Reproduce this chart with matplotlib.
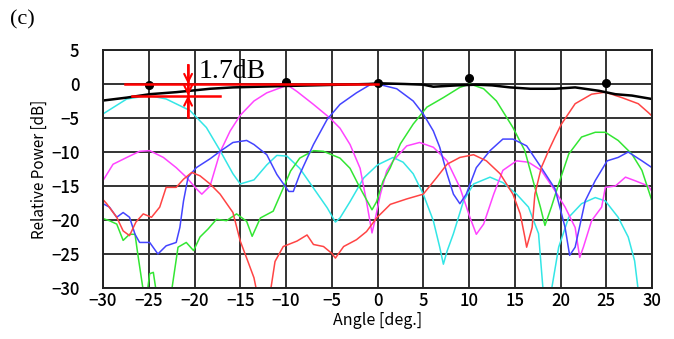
import numpy as np
import matplotlib
matplotlib.use("Agg")
import matplotlib.pyplot as plt

# ---- data ----
black_x = [-30.4, -27.4, -24.9, -22, -20.5, -18.3, -15.8, -13, -10.3, -7, -4, -1, 0.3, 3, 5, 6.1, 8.7, 10.8, 12.5, 14.5, 16.7, 19.4, 21.6, 24.2, 26, 27.8, 30.4]
black_y = [-2.5, -2.0, -1.5, -1.2, -1.0, -0.7, -0.5, -0.4, -0.3, -0.2, -0.1, 0.0, 0.1, 0.0, -0.1, -0.4, -0.2, -0.1, -0.2, -0.5, -0.7, -0.7, -0.5, -1.0, -1.5, -1.7, -2.3]

dot_x = [-25, -10, 0, 10, 25]
dot_y = [-0.2, 0.3, 0.1, 0.9, 0.1]

cyan_x = [-30.4, -30, -27.4, -25, -23.1, -20.5, -18.7, -17.2, -15.8, -15, -13.5, -12.1, -11, -9.9, -8.5, -7, -5.5, -4.6, -4.1, -3, -1.5, 0, 1.7, 2.8, 3.9, 5, 6.1, 6.8, 7.2, 7.6, 8.3, 9.4, 10.5, 12.3, 13.7, 15.2, 16.5, 17.6, 18.1, 18.5, 19, 19.8, 20.9, 22.3, 23.8, 24.9, 26.3, 27.4, 28.1, 28.5, 28.8]
cyan_y = [-5.1, -4.4, -2.2, -1.7, -2.2, -3.9, -6.4, -9.8, -13.2, -14.7, -14.1, -11.9, -10.5, -10.6, -12.4, -15.3, -18.2, -20.3, -19.7, -17.3, -13.8, -11.9, -10.8, -11.5, -13.2, -16.2, -20.1, -24, -26.5, -24.6, -22, -17.2, -14.7, -13.7, -14.5, -16.2, -18.1, -22, -30.4, -33, -30.4, -24, -19.6, -17.6, -16.7, -17.2, -19.6, -22.5, -26, -30.4, -33]

magenta_x = [-30.4, -30, -28.9, -27.4, -26, -24.9, -23.4, -22, -20.9, -19.8, -19.2, -18.3, -17.2, -16.1, -15, -13.5, -12.1, -10.3, -10, -8.8, -7, -5.2, -4.1, -3, -1.9, -1.2, -0.6, -0.3, 0.3, 1, 1.7, 3.2, 4.6, 6.1, 7.6, 9, 10.1, 10.8, 11.6, 12.7, 13.7, 15.2, 16.5, 17.9, 19.4, 20.5, 21.6, 22.1, 22.5, 23.4, 24.5, 24.9, 26, 27.1, 28.1, 29.6, 30.7]
magenta_y = [-15.2, -14.2, -11.8, -10.8, -9.9, -9.8, -10.8, -12.3, -13.7, -15.4, -16.2, -15, -10, -6.9, -4.6, -2.5, -1.3, -0.4, 0.0, -1.1, -3.0, -5.0, -6.5, -8.9, -12.4, -17.3, -21.9, -20.2, -16.3, -12.8, -11.3, -9.1, -8.6, -9.3, -11.3, -15.2, -19.6, -22.1, -20.6, -16.2, -12.7, -11.3, -11.5, -12.7, -15.7, -18.1, -21.1, -25.5, -24, -20.1, -18.1, -15.2, -15, -13.7, -14.2, -15, -17.2]

blue_x = [-30.4, -30, -29.3, -28.5, -27.8, -27.1, -26.5, -26, -24.9, -24, -23.1, -22, -21.6, -21.2, -20.7, -19.8, -18.3, -17.2, -15.8, -14.3, -13.5, -12.1, -11, -9.7, -9.2, -8.5, -7, -5.5, -4.1, -2.3, -0.8, 0, 2.1, 3.9, 5, 6.1, 6.8, 7.6, 8.3, 9, 9.7, 10.8, 12.3, 13.7, 14.8, 16.3, 17.9, 19.4, 20.5, 21, 21.6, 22.7, 23.8, 25.1, 26.3, 27.4, 28.9, 30, 30.7]
blue_y = [-19.1, -17.6, -18.1, -19.6, -18.9, -19.6, -22.1, -23.3, -23.3, -25, -23.8, -23.3, -21.1, -17.2, -13.7, -12.3, -11, -9.9, -8.6, -8.3, -8.9, -10.4, -13.3, -15.8, -15.8, -13.3, -8.9, -5.2, -3.0, -1.3, -0.1, 0.0, -0.7, -2.5, -4.4, -6.9, -9.3, -13.2, -16.2, -17.6, -16.2, -12.3, -9.8, -8.1, -8.1, -9.1, -12.3, -15.4, -21.1, -25.2, -24, -17.2, -14.2, -11.3, -10.8, -10, -11.3, -12.3, -14.2]

green_x = [-30.4, -29.3, -28.5, -27.8, -27.1, -26.5, -26.2, -25.6, -25.3, -24.9, -24.5, -24.2, -23.9, -22.8, -22.5, -21.8, -20.9, -20.1, -19.4, -18.5, -17.6, -16.5, -15.4, -14.3, -13.7, -12.8, -11.4, -10.3, -9.5, -8.5, -7, -5.9, -4.1, -3, -1.9, -0.6, -0.1, 0.6, 1.4, 2.5, 3.9, 5.4, 7.2, 9, 10.1, 11.6, 13, 14.8, 16.1, 17.2, 17.8, 18.3, 19, 19.8, 20.9, 22.3, 23.8, 24.9, 26.3, 27.8, 28.9, 30, 30.7]
green_y = [-19.6, -20.1, -20.6, -23, -22.1, -22.1, -25, -30.4, -32, -27.9, -27.7, -30.4, -32, -32, -30.4, -24, -23.3, -24.5, -22.5, -21.3, -19.9, -20.1, -19.1, -20.2, -22.4, -19.7, -18.7, -15.3, -12.8, -10.9, -9.8, -9.9, -10.9, -12.4, -15.3, -18.5, -17.3, -14.3, -12.3, -8.8, -5.9, -3.4, -2.0, -0.5, 0.0, -0.7, -2.5, -6.4, -9.8, -15.2, -18.1, -20.8, -18.1, -14.7, -10.3, -7.8, -7.1, -7.1, -8.3, -10.3, -12.7, -17.2, -22.1]

red_x = [-30.4, -29.6, -28.5, -27.8, -27.1, -26.4, -25.6, -24.7, -23.8, -23.1, -22, -21.2, -20.3, -19.4, -18.3, -17.2, -15.8, -15, -14.3, -13.5, -13.2, -12.5, -11.7, -11.2, -10.3, -8.8, -7.7, -7, -5.9, -5, -4.6, -3.7, -2.3, -1.2, -0.1, 1.4, 3.2, 5, 6.5, 7.6, 9, 10.5, 11.9, 13.4, 14.8, 15.6, 16.1, 16.3, 16.9, 17.2, 17.9, 18.7, 19.4, 20.1, 21.6, 23.4, 24.9, 26.7, 28.5, 29.6, 30.7]
red_y = [-16.4, -17.6, -19.6, -21.6, -22.3, -20.3, -19.1, -19.6, -18.1, -15.2, -15.2, -14, -13, -13.5, -14.7, -16.2, -18.9, -23.1, -25.6, -28.5, -30.5, -33, -30.5, -26.1, -23.9, -23.1, -22.2, -23.6, -23.9, -24.9, -25.6, -23.9, -22.9, -21.7, -19.7, -17.7, -16.9, -16.2, -13.7, -11.8, -10.8, -10.4, -11.3, -13.2, -16.2, -19.1, -22.5, -24, -21.1, -16.2, -12.3, -9.8, -7.8, -5.9, -2.9, -1.5, -1.2, -2.0, -2.9, -4.2, -5.6]

xticks = [-30, -25, -20, -15, -10, -5, 0, 5, 10, 15, 20, 25, 30]
yticks = [5, 0, -5, -10, -15, -20, -25, -30]

# ---- figure ----
plt.rcParams['font.family'] = ['Noto Sans CJK JP', 'DejaVu Sans']
fig = plt.figure(figsize=(6.74, 3.39), dpi=100)
ax = fig.add_axes([103/674, 1-288/339, (652-103)/674, (288-50)/339])

ax.set_xlim(-30, 30)
ax.set_ylim(-30, 5)
ax.set_xticks(xticks)
ax.set_yticks(yticks)
ax.set_xticklabels([str(t).replace('-', '\u2212') for t in xticks], fontsize=12, fontweight='medium')
ax.set_yticklabels([str(t).replace('-', '\u2212') for t in yticks], fontsize=12, fontweight='medium')
ax.tick_params(axis='x', length=0, pad=3)
ax.tick_params(axis='y', length=0, pad=17)
ax.grid(True, color='#333333', linewidth=1.4)
ax.set_axisbelow(True)
for s in ax.spines.values():
    s.set_color('#222222')
    s.set_linewidth(1.4)

lw = 1.1
ax.plot(cyan_x, cyan_y, color='#33e6e6', lw=lw)
ax.plot(magenta_x, magenta_y, color='#ff44ff', lw=lw)
ax.plot(green_x, green_y, color='#33e633', lw=lw)
ax.plot(blue_x, blue_y, color='#4444ff', lw=lw)
ax.plot(red_x, red_y, color='#ff4444', lw=lw)
ax.plot(black_x, black_y, color='black', lw=1.8)
ax.plot(dot_x, dot_y, 'o', color='black', ms=5.5)

# annotation (red)
ax.plot([-27.6, 0], [0, 0], color='red', lw=1.8)
ax.plot([-26.8, -17.2], [-1.7, -1.7], color='red', lw=1.8)
ax.plot([-20.7, -20.7], [2.8, -4.85], color='red', lw=1.8)
ax.annotate('', xy=(-20.7, 0), xytext=(-20.7, 2.8),
            arrowprops=dict(arrowstyle='->', color='red', lw=1.5, mutation_scale=14, shrinkA=0, shrinkB=0))
ax.annotate('', xy=(-20.7, -1.7), xytext=(-20.7, 0),
            arrowprops=dict(arrowstyle='->', color='red', lw=1.5, mutation_scale=14, shrinkA=0, shrinkB=0))
ax.annotate('', xy=(-20.7, -1.7), xytext=(-20.7, -4.85),
            arrowprops=dict(arrowstyle='->', color='red', lw=1.5, mutation_scale=14, shrinkA=0, shrinkB=0))
ax.text(-15.9, 1.9, '1.7dB', family='Liberation Serif', fontsize=20,
        ha='center', va='center', color='black')

ax.set_xlabel('Angle [deg.]', fontsize=11.5, labelpad=1)
ax.set_ylabel('Relative Power [dB]', fontsize=11, labelpad=2)

fig.text(10/674, 1-20/339, '(c)', family='Liberation Serif', fontsize=16,
         ha='left', va='center')

fig.savefig('out.png', dpi=100)
